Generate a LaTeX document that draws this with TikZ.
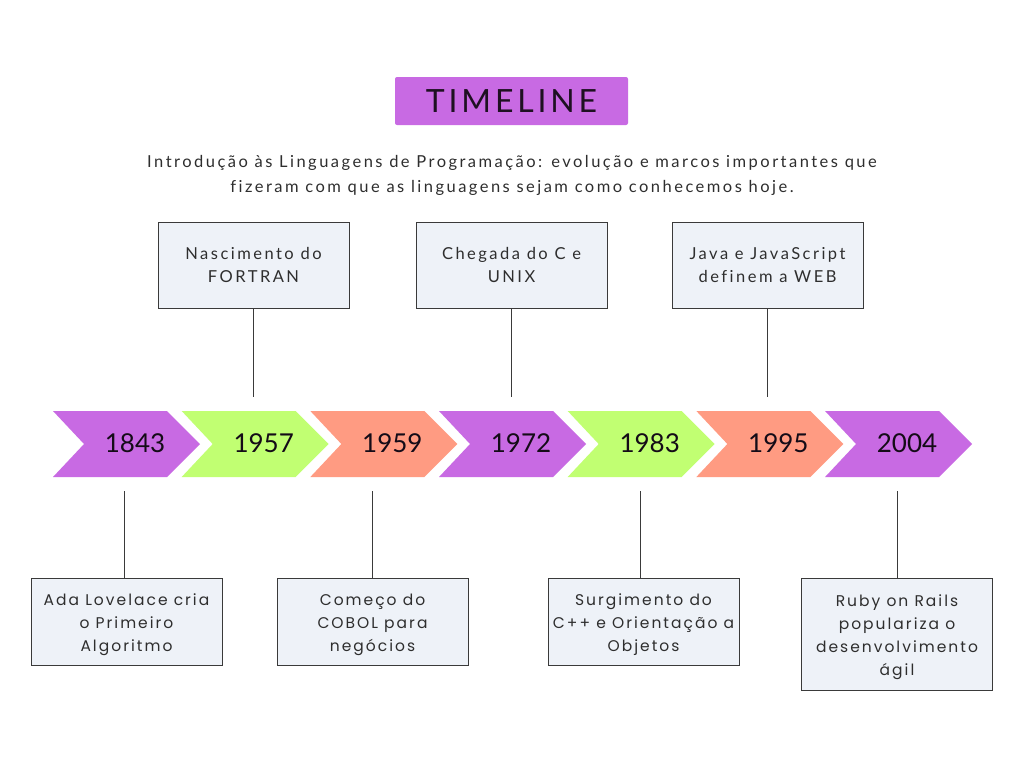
\documentclass[tikz,border=0pt]{standalone}
\usepackage{fontspec}
\setmainfont{Lato}
\newfontfamily\topfont[LetterSpace=15,Ligatures=NoCommon]{Lato}
\newfontfamily\botfont[LetterSpace=13]{Poppins}
\newfontfamily\titlefont[LetterSpace=12]{Lato}
\newfontfamily\yearfont{Lato}
\definecolor{cpurple}{HTML}{C86AE3}
\definecolor{cgreen}{HTML}{C1FF72}
\definecolor{csalmon}{HTML}{FF9B82}
\definecolor{boxfill}{HTML}{EEF2F8}
\definecolor{boxline}{HTML}{3A3A3A}
\definecolor{txt}{HTML}{2E2E2E}
\tikzset{
  boxshape/.style={draw=boxline, line width=0.9pt, fill=boxfill, minimum width=191pt, inner sep=0pt},
  topbox/.style={boxshape, minimum height=86pt, align=center, text=txt, font=\topfont\fontsize{16.5}{23}\selectfont},
  botbox/.style={boxshape, minimum height=87pt},
  bottxt/.style={align=center, text=txt, inner sep=0pt, font=\botfont\fontsize{15.5}{23}\selectfont},
  conn/.style={draw=boxline, line width=0.9pt},
  year/.style={font=\yearfont\fontsize{26}{30}\selectfont, text=black!90!cpurple, inner sep=0pt},
}
\begin{document}
\begin{tikzpicture}[x=1pt,y=-1pt]
\fill[white] (0,0) rectangle (1024,768);
\useasboundingbox (0,0) rectangle (1024,768);
% title
\node[fill=cpurple, rounded corners=2pt, minimum width=233pt, minimum height=48pt, inner sep=0pt, text=black!85!cpurple, font=\titlefont\fontsize{32}{36}\selectfont] (title) at (511.5,101) {TIMELINE};
\node[align=center, text=txt, inner sep=0pt, font=\topfont\fontsize{16.5}{25}\selectfont] (sub) at (512,175.5) {Introdução às Linguagens de Programação: evolução e marcos importantes que\\fizeram com que as linguagens sejam como conhecemos hoje.};
% chevrons
\foreach \i/\yr/\col in {0/1843/cpurple,1/1957/cgreen,2/1959/csalmon,3/1972/cpurple,4/1983/cgreen,5/1995/csalmon,6/2004/cpurple}{
  \pgfmathsetmacro\xx{53+128.67*\i}
  \fill[\col] (\xx,411) -- ++(114,0) -- ++(33,33) -- ++(-33,33) -- ++(-114,0) -- ++(31,-33) -- cycle;
  \node[year] (y\i) at (\xx+82,443) {\yr};
}
% top boxes
\node[topbox] (t1) at (253.5,265) {Nascimento do\\FORTRAN};
\node[topbox] (t2) at (511.5,265) {Chegada do C e\\UNIX};
\node[topbox] (t3) at (767.5,265) {Java e JavaScript\\definem a WEB};
\coordinate (ct1) at (253.5,397);
\coordinate (ct2) at (511.5,397);
\coordinate (ct3) at (767.5,397);
\draw[conn] (t1.south) -- (ct1);
\draw[conn] (t2.south) -- (ct2);
\draw[conn] (t3.south) -- (ct3);
% bottom boxes
\node[botbox] (b1) at (126.5,621.5) {};
\node[botbox] (b2) at (372.5,621.5) {};
\node[botbox] (b3) at (643.5,621.5) {};
\node[botbox, minimum height=112pt] (b4) at (897,634) {};
\node[bottxt] (b1t) at ([yshift=-3pt]b1.center) {Ada Lovelace cria\\o Primeiro\\Algoritmo};
\node[bottxt] (b2t) at ([yshift=-3pt]b2.center) {Começo do\\COBOL para\\negócios};
\node[bottxt] (b3t) at ([yshift=-3pt]b3.center) {Surgimento do\\C++ e Orientação a\\Objetos};
\node[bottxt] (b4t) at ([yshift=-3pt]b4.center) {Ruby on Rails\\populariza o\\desenvolvimento\\ágil};
\coordinate (cb1) at (124,491);
\coordinate (cb2) at (372,491);
\coordinate (cb3) at (640,491);
\coordinate (cb4) at (897,491);
\draw[conn] (b1.north -| cb1) -- (cb1);
\draw[conn] (b2.north -| cb2) -- (cb2);
\draw[conn] (b3.north -| cb3) -- (cb3);
\draw[conn] (b4.north -| cb4) -- (cb4);
\end{tikzpicture}
\end{document}
